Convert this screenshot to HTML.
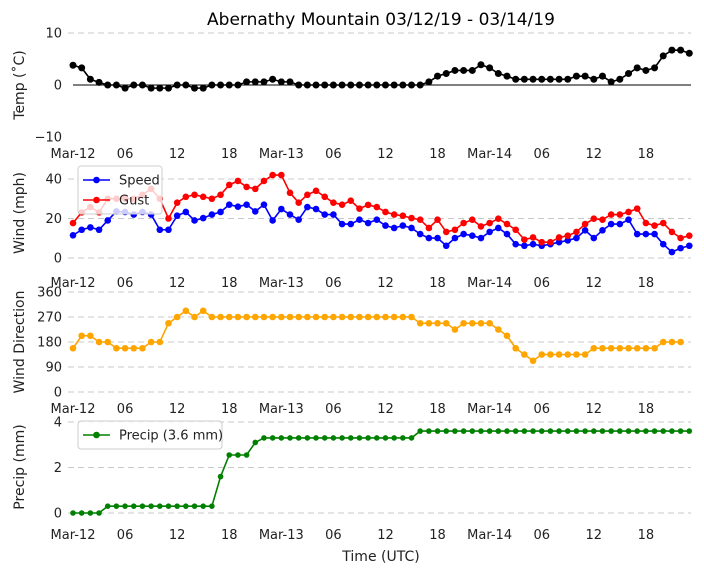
<!DOCTYPE html>
<html><head><meta charset="utf-8"><style>
html,body{margin:0;padding:0;background:#fff;}
svg{display:block;font-family:"DejaVu Sans","Liberation Sans",sans-serif;}
</style></head><body>
<svg id="chart" width="704" height="573" viewBox="0 0 704 573"></svg>
<script>
const hours = Array.from({length:72},(_,i)=>i);
const tickLabels = ["Mar-12","06","12","18","Mar-13","06","12","18","Mar-14","06","12","18"];
const tickHours = [0,6,12,18,24,30,36,42,48,54,60,66];
const temp = [3.8,3.3,1.1,0.5,0,0,-0.6,0,0,-0.6,-0.6,-0.6,0,0,-0.6,-0.6,0,0,0,0,0.6,0.6,0.6,1.1,0.6,0.6,
 0,0,0,0,0,0,0,0,0,0,0,0,0,0,0,
 0.6,1.7,2.2,2.8,2.8,2.8,3.9,3.3,2.2,1.7,
 1.1,1.1,1.1,1.1,1.1,1.1,1.1,
 1.7,1.7,1.1,1.7,0.6,1.1,2.2,3.3,2.8,3.3,5.6,6.7,6.7,6.1];
const speed = [11.5,14.3,15.5,14.3,19,23.6,23.3,22,23.3,22,14.3,14.3,21.4,23.3,19,20.2,22,23.3,27,26,27,23.6,27,19,24.8,22,19.4,25.8,24.8,22,22,17.2,17.2,19.4,17.7,
 19.4,16.4,15.2,16.4,15.2,12.1,10.1,10.1,6.2,10.1,12.1,11.3,10.1,13.2,15.2,12.1,7,6.2,7,6.2,7,8,8.9,10.1,14,10.1,14,17.2,17.2,19.4,12.1,12.1,12.1,7,3,5,6.2];
const gust = [17.7,23.1,25.8,23.1,30,30,30,30,32,35,30,20,28,31,32,31,30,32,37,39,36,35,39,42,42,33,28,32,34,31,28,27,29,25,26.9,
 25.8,23.3,22,21.4,20.2,19.4,15.2,19.4,13.2,14.3,17.7,19.4,16,17.7,19.9,17.2,14.3,9.3,10.4,8,8,10.4,11.3,13.2,17.2,19.9,19.4,22,22,23.3,25,17.7,16.4,17.7,13.2,10.1,11.3];
const direction = [157.5,202.5,202.5,180,180,157.5,157.5,157.5,157.5,180,180,247.5,270,292.5,270,292.5,270,
 270,270,270,270,270,270,270,270,270,270,270,270,270,270,270,270,270,270,270,270,270,270,270,
 247.5,247.5,247.5,247.5,225,247.5,247.5,247.5,247.5,225,202.5,157.5,135,112.5,
 135,135,135,135,135,135,157.5,157.5,157.5,157.5,157.5,157.5,157.5,157.5,180,180,180];
const precip = [0,0,0,0,0.3,0.3,0.3,0.3,0.3,0.3,0.3,0.3,0.3,0.3,0.3,0.3,0.3,1.6,2.55,2.55,2.55,3.1,
 3.3,3.3,3.3,3.3,3.3,3.3,3.3,3.3,3.3,3.3,3.3,3.3,3.3,3.3,3.3,3.3,3.3,3.3,
 3.6,3.6,3.6,3.6,3.6,3.6,3.6,3.6,3.6,3.6,3.6,3.6,3.6,3.6,3.6,3.6,3.6,3.6,3.6,3.6,3.6,3.6,3.6,3.6,3.6,3.6,3.6,3.6,3.6,3.6,3.6,3.6];

const svg=document.getElementById('chart');
const NS='http://www.w3.org/2000/svg';
function mk(tag,attrs,parent){const e=document.createElementNS(NS,tag);for(const k in attrs)e.setAttribute(k,attrs[k]);(parent||svg).appendChild(e);return e;}
const xS=h=>73+8.68*h;
const X0=68,X1=691;

function panel(name,y0v,y0p,y1v,y1p,ticks,tickTxt,title,titleY,xLabY,grid){
  const g=mk('g',{});
  
  
  const yS=v=>y0p+(v-y0v)*(y1p-y0p)/(y1v-y0v);
  ticks.forEach((t,i)=>{
    if(grid.includes(t)){const l=mk('line',{x1:X0,x2:X1,y1:yS(t),y2:yS(t),stroke:'#c8c8c8','stroke-width':1,'stroke-dasharray':'6,4'},g);
      
      }
    const tx=mk('text',{x:62,y:yS(t)+4.5,'text-anchor':'end','font-size':13,fill:'#222'},g);
    tx.textContent=tickTxt[i];
    
    
  });
  tickHours.forEach((h,i)=>{
    const tx=mk('text',{x:xS(h),y:xLabY,'text-anchor':'middle','font-size':13,fill:'#222'},g);
    tx.textContent=tickLabels[i];
    
    
  });
  const yt=mk('text',{x:0,y:0,'text-anchor':'middle','font-size':14,fill:'#222',transform:`translate(24,${titleY}) rotate(-90)`},g);
  yt.textContent=title;
  
  
  return {g,yS};
}
function series(p,vals,color,name,r){
  const pts=vals.map((v,i)=>xS(hours[i])+','+p.yS(v)).join(' ');
  const pl=mk('polyline',{points:pts,fill:'none',stroke:color,'stroke-width':1.6},p.g);
  
  
  vals.forEach((v,i)=>{const c=mk('circle',{cx:xS(hours[i]),cy:p.yS(v),r:r,fill:color},p.g);
    
    });
}
function legend(entries,x,y,w){
  const g=mk('g',{});
  
  
  mk('rect',{x:x,y:y,width:w,height:8+entries.length*20,rx:3,fill:'#fff','fill-opacity':0.8,stroke:'#ccc'},g);
  entries.forEach((e,i)=>{const cy=y+14+i*20;
    mk('line',{x1:x+5,x2:x+32,y1:cy,y2:cy,stroke:e[1],'stroke-width':1.6},g);
    mk('circle',{cx:x+18.5,cy:cy,r:3.3,fill:e[1]},g);
    const t=mk('text',{x:x+41,y:cy+4.5,'font-size':13,fill:'#222'},g);t.textContent=e[0];
    
    });
}

const ttl=mk('text',{x:381,y:25,'text-anchor':'middle','font-size':17,fill:'#000'});
ttl.textContent='Abernathy Mountain 03/12/19 - 03/14/19';



const p1=panel('temp-panel',0,85,10,33,[10,0,-10],['10','0','\u221210'],'Temp (\u02daC)',85,158,[10]);
const zl=mk('line',{x1:73,x2:X1,y1:85,y2:85,stroke:'#000','stroke-width':1},p1.g);


series(p1,temp,'#000','temp',3.5);

const p2=panel('wind-panel',0,258,40,179,[40,20,0],['40','20','0'],'Wind (mph)',213,287,[40,20,0]);
series(p2,speed,'#0000ff','speed',3.3);
series(p2,gust,'#ff0000','gust',3.3);
legend([['Speed','#0000ff'],['Gust','#ff0000']],78,166,84);

const p3=panel('direction-panel',0,392,360,292,[360,270,180,90,0],['360','270','180','90','0'],'Wind Direction',342,413,[360,270,180,90,0]);
series(p3,direction,'#ffa500','direction',3.3);

const p4=panel('precip-panel',0,513,4,422,[4,2,0],['4','2','0'],'Precip (mm)',467,539,[4,2,0]);
series(p4,precip,'#008000','precip',2.8);
legend([['Precip (3.6 mm)','#008000']],78,421,144);

const xt=mk('text',{x:381,y:561,'text-anchor':'middle','font-size':14,fill:'#222'});
xt.textContent='Time (UTC)';


</script>
</body></html>
